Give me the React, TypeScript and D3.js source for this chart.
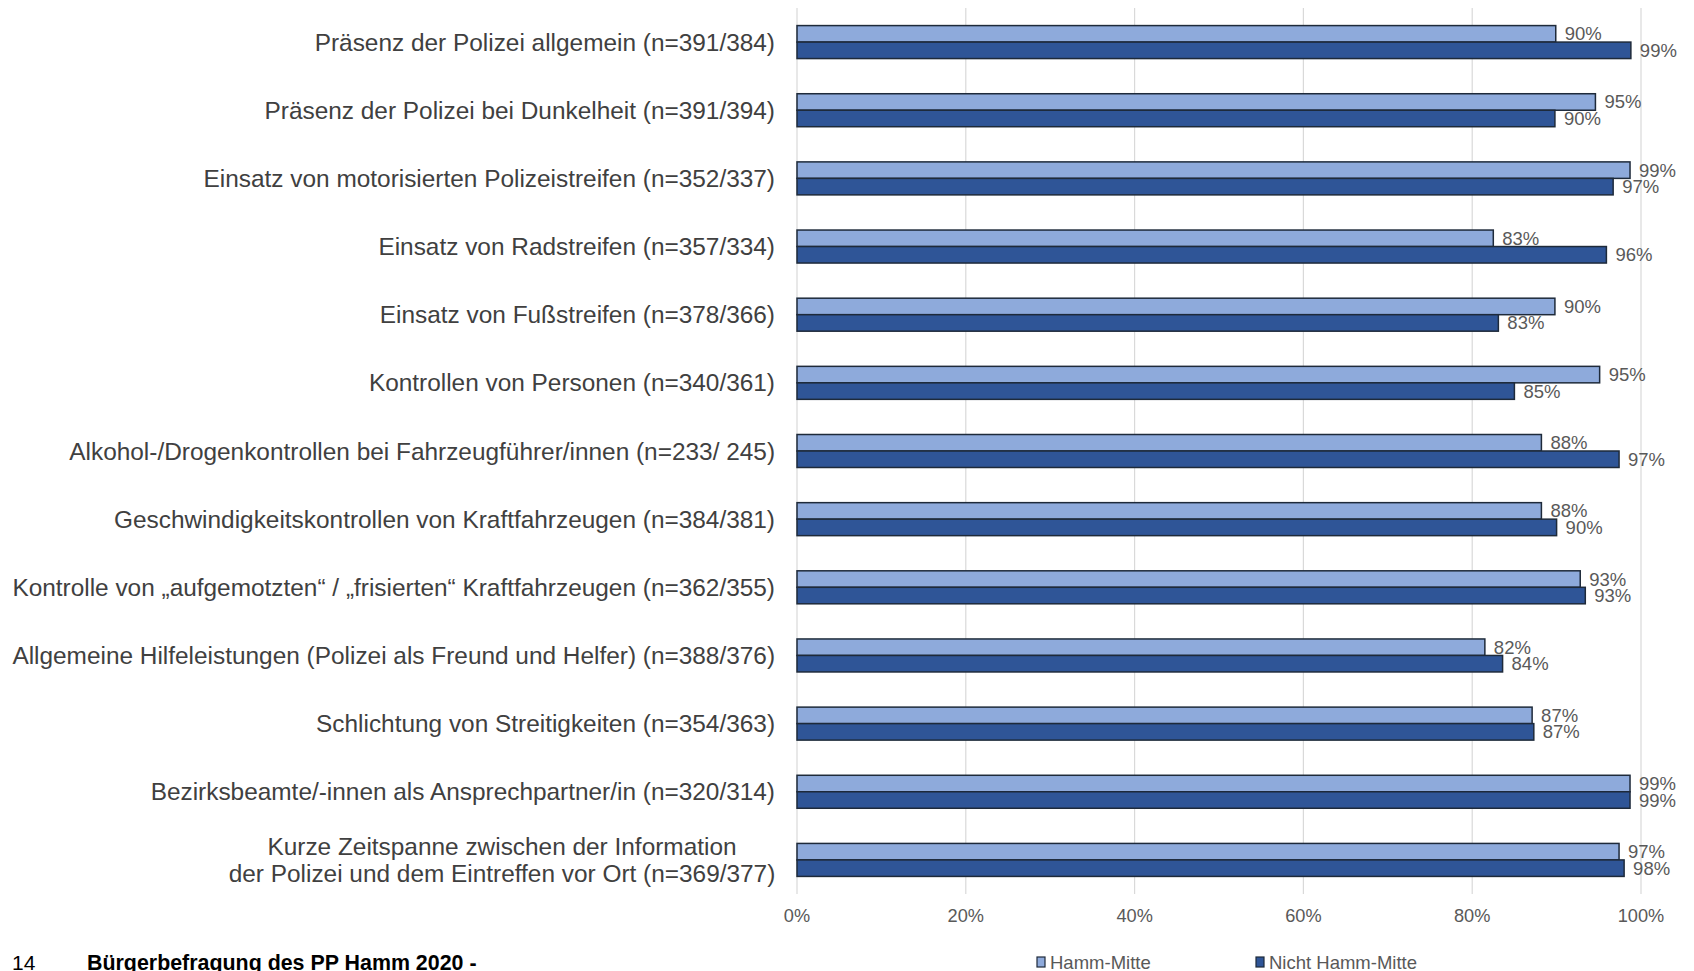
import React from "react";
import * as d3 from "d3";

const categories: string[] = [
  "Präsenz der Polizei allgemein (n=391/384)",
  "Präsenz der Polizei bei Dunkelheit (n=391/394)",
  "Einsatz von motorisierten Polizeistreifen (n=352/337)",
  "Einsatz von Radstreifen (n=357/334)",
  "Einsatz von Fußstreifen (n=378/366)",
  "Kontrollen von Personen (n=340/361)",
  "Alkohol-/Drogenkontrollen bei Fahrzeugführer/innen (n=233/ 245)",
  "Geschwindigkeitskontrollen von Kraftfahrzeugen (n=384/381)",
  "Kontrolle von „aufgemotzten“ / „frisierten“ Kraftfahrzeugen (n=362/355)",
  "Allgemeine Hilfeleistungen (Polizei als Freund und Helfer) (n=388/376)",
  "Schlichtung von Streitigkeiten (n=354/363)",
  "Bezirksbeamte/-innen als Ansprechpartner/in (n=320/314)",
  "Kurze Zeitspanne zwischen der Information\nder Polizei und dem Eintreffen vor Ort (n=369/377)",
];

const seriesNames: string[] = ["Hamm-Mitte", "Nicht Hamm-Mitte"];
const hammMitte: number[] = [89.9, 94.6, 98.7, 82.5, 89.8, 95.1, 88.2, 88.2, 92.8, 81.5, 87.1, 98.7, 97.4];
const nichtHammMitte: number[] = [98.8, 89.8, 96.7, 95.9, 83.1, 85.0, 97.4, 90.0, 93.4, 83.6, 87.3, 98.7, 98.0];
const xTicks: number[] = [0, 20, 40, 60, 80, 100];

const colors = ["#8eaadb", "#2f5597"];
const W = 1694;
const H = 971;
const plotLeft = 797;
const plotRight = 1641;
const plotTop = 8;
const plotBottom = 894;
const labelFont = "'Liberation Sans', Arial, sans-serif";

export default function App() {
  const x = d3.scaleLinear().domain([0, 100]).range([plotLeft, plotRight]);
  const y0 = d3
    .scaleBand<string>()
    .domain(categories)
    .range([plotTop, plotBottom])
    .paddingInner(0.516)
    .paddingOuter(0.258);
  const y1 = d3.scaleBand<string>().domain(seriesNames).range([0, y0.bandwidth()]);
  const values = [hammMitte, nichtHammMitte];
  const fmt = (v: number) => `${Math.round(v)}%`;

  return (
    <svg
      width={W}
      height={H}
      style={{ position: "absolute", left: 0, top: 0, background: "#fff" }}
      fontFamily={labelFont}
    >
      <rect x={0} y={0} width={W} height={H} fill="#fff" />
      {xTicks.map((t) => (
        <g key={t}>
          <line x1={x(t)} x2={x(t)} y1={plotTop} y2={plotBottom} stroke="#d9d9d9" strokeWidth={1.2} />
          <text x={x(t)} y={916} fontSize={18.2} fill="#595959" textAnchor="middle" dominantBaseline="central">
            {t}%
          </text>
        </g>
      ))}
      {categories.map((c, i) => {
        const cy = (y0(c) as number) + y0.bandwidth() / 2;
        const lines = c.split("\n");
        return (
          <g key={c}>
            {lines.length === 1 ? (
              <text x={775} y={cy} fontSize={24.4} fill="#404040" textAnchor="end" dominantBaseline="central">
                {c}
              </text>
            ) : (
              lines.map((ln, k) => (
                <text
                  key={k}
                  x={502}
                  y={cy + (k - (lines.length - 1) / 2) * 27}
                  fontSize={24.4}
                  fill="#404040"
                  textAnchor="middle"
                  dominantBaseline="central"
                >
                  {ln}
                </text>
              ))
            )}
            {seriesNames.map((s, si) => {
              const v = values[si][i];
              const by = (y0(c) as number) + (y1(s) as number);
              return (
                <g key={s}>
                  <rect
                    x={x(0)}
                    y={by}
                    width={x(v) - x(0)}
                    height={y1.bandwidth()}
                    fill={colors[si]}
                    stroke="#1e2a3a"
                    strokeWidth={1.5}
                  />
                  <text
                    x={x(v) + 9}
                    y={by + y1.bandwidth() / 2}
                    fontSize={18.5}
                    fill="#595959"
                    dominantBaseline="central"
                  >
                    {fmt(v)}
                  </text>
                </g>
              );
            })}
          </g>
        );
      })}
      {seriesNames.map((s, si) => {
        const lx = si === 0 ? 1037 : 1256;
        return (
          <g key={s}>
            <rect x={lx} y={957} width={8} height={10} fill={colors[si]} stroke="#1e2a3a" strokeWidth={1.2} />
            <text x={lx + 13} y={962} fontSize={18.5} fill="#595959" dominantBaseline="central">
              {s}
            </text>
          </g>
        );
      })}
      <text x={12} y={970} fontSize={21} fill="#000" fontFamily={labelFont}>
        14
      </text>
      <text x={87} y={970} fontSize={21.4} fill="#000" fontWeight="bold" fontFamily={labelFont}>
        Bürgerbefragung des PP Hamm 2020 -
      </text>
    </svg>
  );
}
